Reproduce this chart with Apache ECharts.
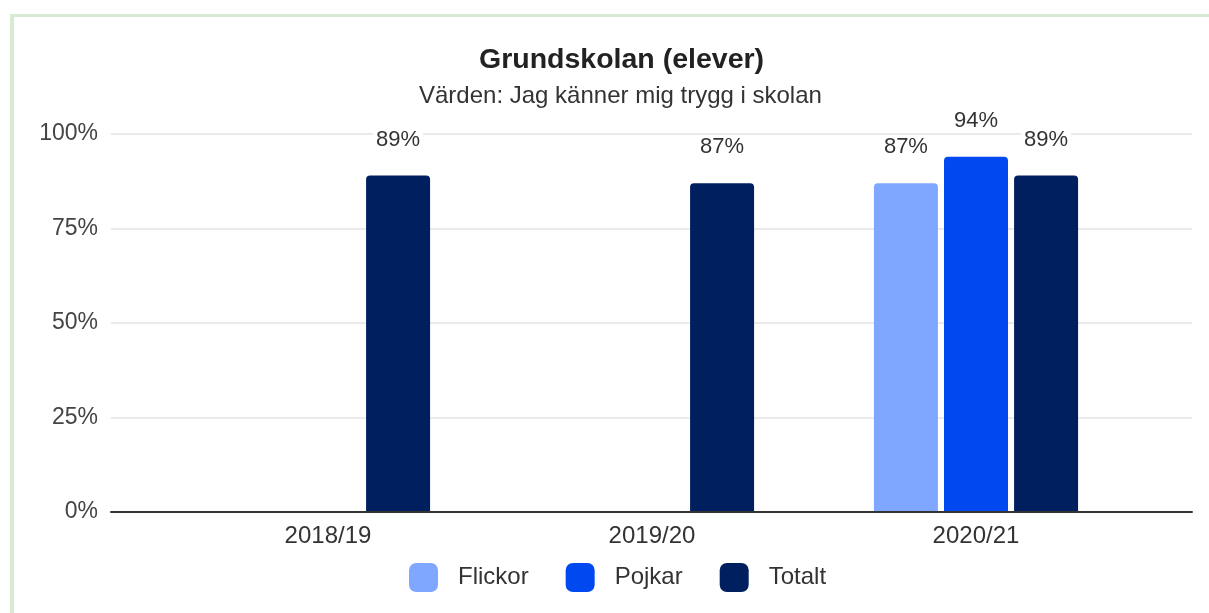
<!DOCTYPE html>
<html>
<head>
<meta charset="utf-8">
<script src="https://cdn.jsdelivr.net/npm/echarts@6/dist/echarts.min.js"></script>
<style>
	html, body { margin: 0; padding: 0; background: #fff; }
	#wrap { position: relative; width: 1209px; height: 613px; overflow: hidden; }
	#chart { position: absolute; left: 0; top: 0; width: 1209px; height: 613px; }
	#frame { position: absolute; left: 10px; top: 14px; right: -10px; bottom: -10px;
		border-top: 3px solid #d9ead3; border-left: 4px solid #d9ead3; pointer-events: none; }
</style>
</head>
<body>
<div id="wrap">
	<div id="chart"></div>
	<div id="frame"></div>
</div>
<script>
	var years = ["2018/19", "2019/20", "2020/21"];
	var flickor = [null, null, 87];
	var pojkar = [null, null, 94];
	var totalt = [89, 87, 89];
	var yTicks = [0, 25, 50, 75, 100];

	var font = "'Liberation Sans', Arial, sans-serif";

	function barSeries(name, values, color){
		return {
			name: name,
			type: "bar",
			xAxisIndex: 1,
			yAxisIndex: 1,
			data: values,
			barWidth: 64,
			barGap: "9.5%",
			itemStyle: { color: color, borderRadius: [4, 4, 0, 0] },
			label: {
				show: true,
				position: "top",
				distance: 25,
				formatter: "{c}%",
				color: "#333",
				fontFamily: font,
				fontSize: 22,
				backgroundColor: "#fff",
				padding: [0, 3]
			}
		};
	}

	var chart = echarts.init(document.getElementById("chart"));
	chart.setOption({
		animation: false,
		backgroundColor: "#fff",
		title: [{
			text: "Grundskolan (elever)",
			left: 474,
			top: 41,
			textStyle: { fontFamily: font, fontSize: 28.5, fontWeight: "bold", color: "#222" }
		}, {
			text: "Värden: Jag känner mig trygg i skolan",
			left: 414,
			top: 79,
			textStyle: { fontFamily: font, fontSize: 24, fontWeight: "normal", color: "#333" }
		}],
		legend: {
			left: 404,
			top: 558,
			itemWidth: 29,
			itemHeight: 29,
			itemGap: 37,
			icon: "roundRect",
			textStyle: { fontFamily: font, fontSize: 24, color: "#333", padding: [0, 0, 0, 15] },
			data: ["Flickor", "Pojkar", "Totalt"]
		},
		grid: [
			{ left: 111, right: 17, top: 134, bottom: 101 },
			{ left: 166, right: 71, top: 134, bottom: 101 }
		],
		xAxis: [{
			type: "category",
			gridIndex: 0,
			data: [""],
			axisLine: { show: true, lineStyle: { color: "#333", width: 2 } },
			axisTick: { show: false },
			axisLabel: { show: false },
			z: 5
		}, {
			type: "category",
			gridIndex: 1,
			data: years,
			axisLine: { show: false },
			axisTick: { show: false },
			axisLabel: { margin: 12, fontFamily: font, fontSize: 24, color: "#333" }
		}],
		yAxis: [{
			type: "value",
			gridIndex: 0,
			min: yTicks[0],
			max: yTicks[yTicks.length - 1],
			interval: 25,
			axisLine: { show: false },
			axisTick: { show: false },
			axisLabel: { margin: 13, formatter: "{value}%", fontFamily: font, fontSize: 23, color: "#444" },
			splitLine: { lineStyle: { color: "#ebebeb", width: 2 } }
		}, {
			type: "value",
			gridIndex: 1,
			min: yTicks[0],
			max: yTicks[yTicks.length - 1],
			show: false,
			splitLine: { show: false }
		}],
		series: [
			barSeries("Flickor", flickor, "#7fa7ff"),
			barSeries("Pojkar", pojkar, "#0049f0"),
			barSeries("Totalt", totalt, "#001f5f")
		]
	});
</script>
</body>
</html>
